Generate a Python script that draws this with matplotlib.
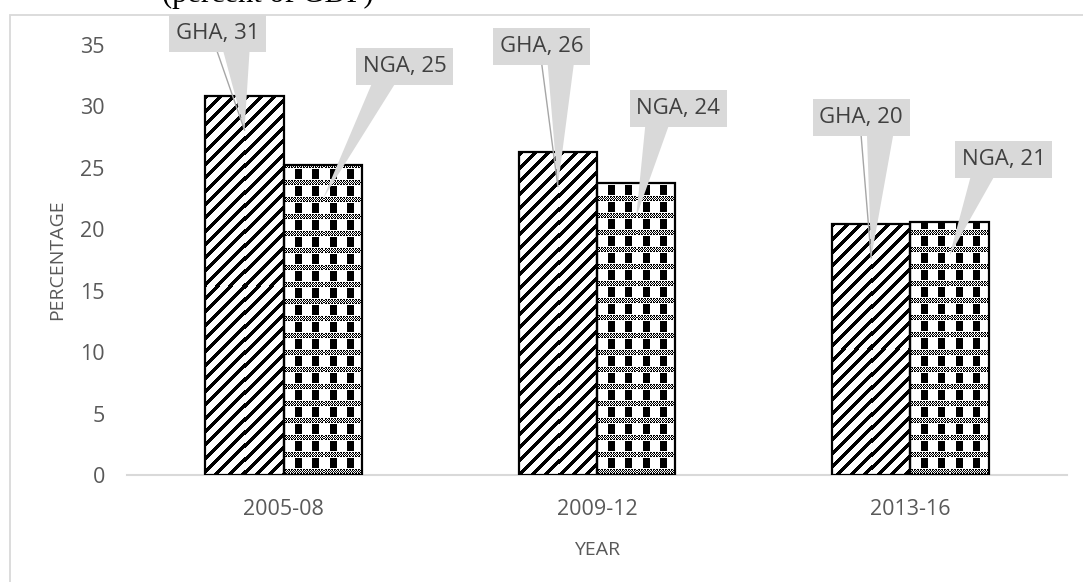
import numpy as np
import matplotlib
matplotlib.use("Agg")
import matplotlib.pyplot as plt
from matplotlib.patches import Rectangle, Polygon
from matplotlib.lines import Line2D

# ---- data -------------------------------------------------------------
periods = ["2005-08", "2009-12", "2013-16"]
gha = [30.85, 26.27, 20.45]
nga = [25.23, 23.77, 20.62]
series_names = ["GHA", "NGA"]
yticks = [0, 5, 10, 15, 20, 25, 30, 35]

# callout placement: box centre offset (px) from the top centre of each bar
gha_offsets = [(-27, 62), (-16, 106), (-10, 106)]
nga_offsets = [(82, 99), (42, 74), (54, 62)]

plt.rcParams["font.family"] = ["Open Sans", "DejaVu Sans"]

W, H = 1083, 582
fig = plt.figure(figsize=(W / 100, H / 100), dpi=100)
ax = fig.add_axes([127 / W, 107 / H, 940 / W, 430 / H])
ax.set_xlim(-0.5, 2.5)
ax.set_ylim(0, 35)

for s in ["top", "right", "left"]:
    ax.spines[s].set_visible(False)
ax.spines["bottom"].set_color("#d9d9d9")
ax.spines["bottom"].set_linewidth(1.5)
ax.spines["bottom"].set_zorder(1)
ax.tick_params(length=0, labelsize=15.5, labelcolor="#595959")
ax.tick_params(axis="y", pad=16)
ax.tick_params(axis="x", pad=17)
ax.set_xticks(range(len(periods)), periods)
ax.set_yticks(yticks)

width = 0.25
x = np.arange(len(periods))


def stripes(h, w):
    r, c = np.mgrid[0:h, 0:w]
    ink = ((c + r) % 13.3) < 5
    return np.where(ink, 0.0, 1.0)


def plaid(h, w):
    r, c = np.mgrid[0:h, 0:w]
    k = (h - 1 - r) % 17
    # dotted horizontal band
    edge = ((k == 1) | (k == 5)) & (c % 3 != 0)
    mid = (k >= 2) & (k <= 4) & ((r + c) % 2 == 0)
    # tall black blocks between the bands
    cols = (k >= 7) & (k <= 16) & (((c - 11) % 17) < 7)
    ink = edge | mid | cols
    return np.where(ink, 0.0, 1.0)


def textured_bars(xpos, values, texture):
    bars = ax.bar(xpos, values, width, facecolor="none", edgecolor="black",
                  linewidth=1.6, zorder=3)
    for b in bars:
        x0, y0 = b.get_x(), b.get_y()
        x1, y1 = x0 + b.get_width(), y0 + b.get_height()
        (px0, py0), (px1, py1) = ax.transData.transform([(x0, y0), (x1, y1)])
        pw, ph = int(round(px1 - px0)), int(round(py1 - py0))
        im = ax.imshow(texture(ph, pw), cmap="gray", vmin=0, vmax=1,
                       extent=(x0, x1, y0, y1), aspect="auto",
                       interpolation="nearest", zorder=2)
        clip = Rectangle((x0, y0), x1 - x0, y1 - y0, transform=ax.transData)
        im.set_clip_path(clip)
    return bars


gha_bars = textured_bars(x - width / 2, gha, stripes)
nga_bars = textured_bars(x + width / 2, nga, plaid)
ax.set_xlim(-0.5, 2.5)
ax.set_ylim(0, 35)

BOX = "#d9d9d9"


def callout(xc, top, off, text, leader):
    tx, ty = ax.transData.transform((xc, top))
    tip = (tx, ty - 34)
    bx, by = tx + off[0], ty + off[1]
    bw, bh = 97, 37
    left, bottom = bx - bw / 2, by - bh / 2
    a, b = (0.56, 0.83) if bx < tip[0] else (0.16, 0.40)
    f = lambda p: (p[0] / W, p[1] / H)
    wedge = Polygon([f((left + a * bw, bottom + 1)), f((left + b * bw, bottom + 1)), f(tip)],
                    closed=True, transform=fig.transFigure, facecolor=BOX,
                    edgecolor="none", zorder=5)
    fig.add_artist(wedge)
    if leader:
        ln = Line2D([bx / W, tip[0] / W], [bottom / H, tip[1] / H],
                    transform=fig.transFigure, color="#a6a6a6", lw=1.0, zorder=5)
        fig.add_artist(ln)
    box = Rectangle(f((left, bottom)), bw / W, bh / H, transform=fig.transFigure,
                    facecolor=BOX, edgecolor="none", zorder=6)
    fig.add_artist(box)
    fig.text(bx / W, by / H, text, ha="center", va="center", fontsize=16,
             color="#404040", zorder=7)


for i in range(len(periods)):
    callout(x[i] - width / 2, gha[i], gha_offsets[i], f"{series_names[0]}, {gha[i]:.0f}", True)
    callout(x[i] + width / 2, nga[i], nga_offsets[i], f"{series_names[1]}, {nga[i]:.0f}", False)

# axis titles
fig.text(597 / W, 1 - 550 / H, "YEAR", ha="center", va="center",
         fontsize=14, color="#595959")
fig.text(57.5 / W, 1 - 260 / H, "PERCENTAGE", ha="center", va="center",
         rotation=90, fontsize=14, color="#595959")

# chart frame
frame = Rectangle((10 / W, -0.1), 1.2, 1.1 - 15 / H, transform=fig.transFigure,
                  fill=False, edgecolor="#d9d9d9", linewidth=1.3, zorder=0)
fig.add_artist(frame)

# caption running above the chart area
fig.text(162 / W, 1 - 2 / H, "(percent of GDP)", ha="left", va="baseline",
         fontsize=22, family="Liberation Serif", color="black")

fig.savefig("out.png", dpi=100)
